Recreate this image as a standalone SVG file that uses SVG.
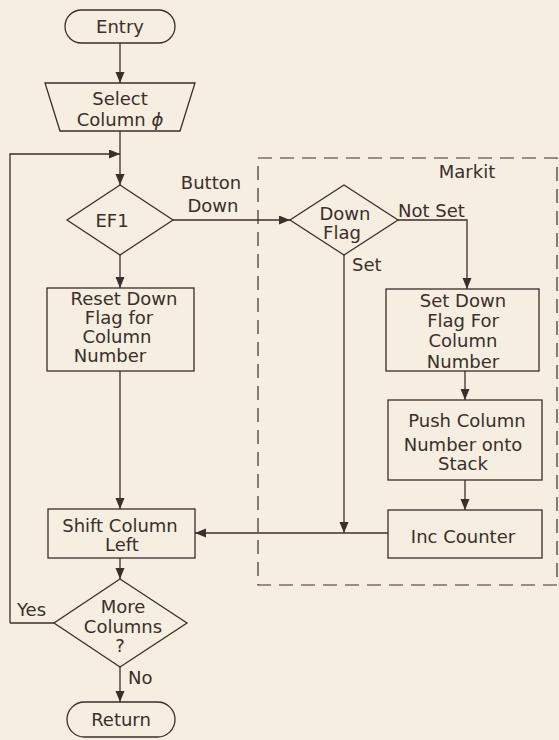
<svg xmlns="http://www.w3.org/2000/svg" width="559" height="740" viewBox="0 0 559 740">
<style>
.s{fill:none;stroke:#3a2f2a;stroke-width:1.3}
.c{fill:none;stroke:#3a2f2a;stroke-width:1.3}
.d{fill:none;stroke:#3a2f2a;stroke-width:1.2;stroke-dasharray:14 8}
text{font-family:"DejaVu Sans","Liberation Sans",sans-serif;font-size:18px;fill:#3a2f2a}
.m{text-anchor:middle}
</style>
<defs>
<marker id="ah" markerUnits="userSpaceOnUse" markerWidth="12" markerHeight="10" refX="11" refY="4.5" orient="auto">
<path d="M0,0 L11,4.5 L0,9 z" fill="#3a2f2a"/>
</marker>
</defs>
<rect width="559" height="740" fill="#f6eee1"/>
<g id="markit">
<rect class="d" x="258" y="158" width="299" height="427"/>
<text x="467" y="178" class="m">Markit</text>
</g>
<g id="connectors">
<path class="c" d="M120,43 V83" marker-end="url(#ah)"/>
<path class="c" d="M120,131 V154"/>
<path class="c" d="M10,623 V154 H120" marker-end="url(#ah)"/>
<path class="c" d="M120,154 V185" marker-end="url(#ah)"/>
<path class="c" d="M173,220 H290" marker-end="url(#ah)"/>
<path class="c" d="M120,255 V288" marker-end="url(#ah)"/>
<path class="c" d="M120,371 V509" marker-end="url(#ah)"/>
<path class="c" d="M398,220 H467 V289" marker-end="url(#ah)"/>
<path class="c" d="M344,255 V533" marker-end="url(#ah)"/>
<path class="c" d="M465,371 V400" marker-end="url(#ah)"/>
<path class="c" d="M465,480 V510" marker-end="url(#ah)"/>
<path class="c" d="M388,533 H195" marker-end="url(#ah)"/>
<path class="c" d="M120,558 V579" marker-end="url(#ah)"/>
<path class="c" d="M54,623 H10"/>
<path class="c" d="M120,667 V702" marker-end="url(#ah)"/>
<text x="211" y="189" class="m">Button</text>
<text x="213" y="212" class="m">Down</text>
<text x="398" y="217">Not Set</text>
<text x="352" y="271">Set</text>
<text x="17" y="616">Yes</text>
<text x="128" y="684">No</text>
</g>
<g id="entry">
<rect class="s" x="65" y="10" width="110" height="33" rx="16.5"/>
<text x="120" y="33" class="m">Entry</text>
</g>
<g id="select">
<path class="s" d="M45,83 H195 L180,131 H60 Z"/>
<text x="120" y="105" class="m">Select</text>
<text x="120" y="126" class="m">Column <tspan font-style="italic">ϕ</tspan></text>
</g>
<g id="ef1">
<path class="s" d="M120,185 L173,220 L120,255 L67,220 Z"/>
<text x="112" y="227" class="m">EF1</text>
</g>
<g id="downflag">
<path class="s" d="M344,185 L398,220 L344,255 L290,220 Z"/>
<text x="345" y="220" class="m">Down</text>
<text x="342" y="239" class="m">Flag</text>
</g>
<g id="setdownflag">
<rect class="s" x="386" y="289" width="153" height="82"/>
<text x="463" y="307" class="m">Set Down</text>
<text x="463" y="327" class="m">Flag For</text>
<text x="463" y="347" class="m">Column</text>
<text x="463" y="368" class="m">Number</text>
</g>
<g id="push">
<rect class="s" x="388" y="400" width="154" height="80"/>
<text x="467" y="427" class="m">Push Column</text>
<text x="463" y="451" class="m">Number onto</text>
<text x="463" y="470" class="m">Stack</text>
</g>
<g id="inc">
<rect class="s" x="388" y="510" width="154" height="48"/>
<text x="463" y="543" class="m">Inc Counter</text>
</g>
<g id="reset">
<rect class="s" x="47" y="288" width="147" height="83"/>
<text x="124" y="305" class="m">Reset Down</text>
<text x="119" y="324" class="m">Flag for</text>
<text x="117" y="343" class="m">Column</text>
<text x="110" y="362" class="m">Number</text>
</g>
<g id="shift">
<rect class="s" x="48" y="509" width="147" height="49"/>
<text x="120" y="532" class="m">Shift Column</text>
<text x="122" y="551" class="m">Left</text>
</g>
<g id="more">
<path class="s" d="M120,579 L187,623 L120,667 L54,623 Z"/>
<text x="123" y="613" class="m">More</text>
<text x="123" y="633" class="m">Columns</text>
<text x="120" y="652" class="m">?</text>
</g>
<g id="return">
<rect class="s" x="67" y="702" width="108" height="35" rx="17.5"/>
<text x="121" y="726" class="m">Return</text>
</g>
</svg>
